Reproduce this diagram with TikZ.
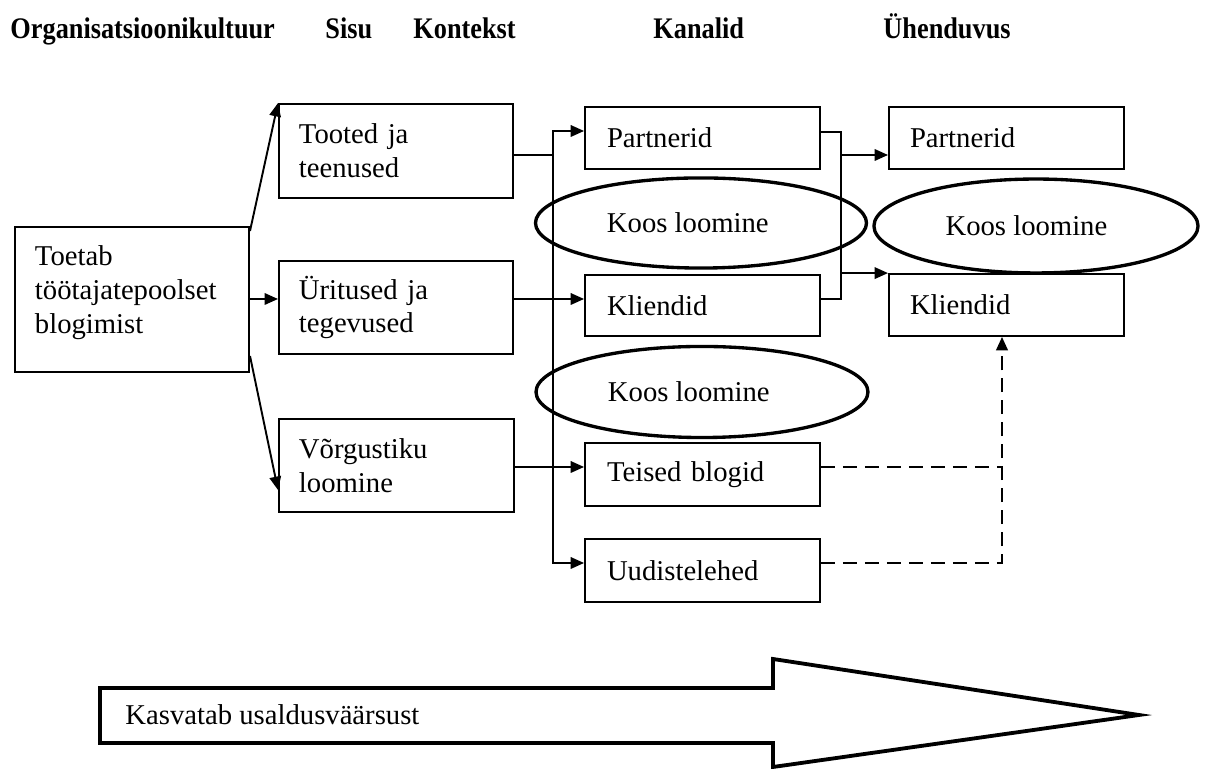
\documentclass[tikz,border=0pt]{standalone}
\usepackage{fontspec}
\setmainfont{Liberation Serif}
\usetikzlibrary{arrows.meta,shapes.geometric,calc}
\newcommand\hdtxt[1]{\scalebox{0.88}[1]{#1}}
\begin{document}
\begin{tikzpicture}[x=0.4184pt,y=-0.4184pt,
  every node/.style={font=\fontsize{12}{14.2}\selectfont},
  box/.style={draw, line width=0.8pt, align=left, inner xsep=8.37pt, inner ysep=0pt},
  boxc/.style={draw, line width=0.8pt, align=left, inner xsep=9.2pt, inner ysep=0pt, text width=79.9pt},
  boxd/.style={draw, line width=0.8pt, align=left, inner xsep=8.79pt, inner ysep=0pt, text width=80.75pt},
  oval/.style={draw, ellipse, line width=1.4pt, inner sep=0pt},
  conn/.style={line width=0.8pt},
  arr/.style={conn, -{Triangle[length=5.6pt,width=4.8pt]}},
  dsh/.style={line width=1pt, dash pattern=on 5.9pt off 3.3pt},
  head/.style={font=\fontsize{12.5}{14}\selectfont\bfseries, anchor=base west, inner sep=0pt},
  bigarrow/.style={line width=1.6pt, line join=miter}]

\useasboundingbox (0,0) rectangle (1214,769);

% header
\node[head] (h1) at (10,39) {\hdtxt{Organisatsioonikultuur}};
\node[head] (h2) at (325,39) {\hdtxt{Sisu}};
\node[head] (h3) at (413,39) {\hdtxt{Kontekst}};
\node[head] (h4) at (653,39) {\hdtxt{Kanalid}};
\node[head] (h5) at (883,39) {\hdtxt{Ühenduvus}};

% left box
\node[box, text width=81.2pt, minimum height=60.7pt] (L) at (132,299.5) {Toetab\\töötajatepoolset\\blogimist\\[-6pt]\mbox{}};

% column 2
\node[box, text width=81.2pt, minimum height=39.3pt] (T) at (396,151) {Tooted ja\\teenused};
\node[box, text width=81.2pt, minimum height=38.9pt] (U) at (396,307.5) {Üritused ja\\tegevused};
\node[box, text width=81.6pt, minimum height=38.9pt] (V) at (396.5,465.5) {Võrgustiku\\loomine};

% column 3
\node[boxc, minimum height=25.9pt] (P3) at (702.5,138) {Partnerid};
\node[boxc, minimum height=25.5pt] (K3) at (702.5,305.5) {Kliendid};
\node[boxc, minimum height=26.4pt] (B3) at (702.5,474.5) {Teised blogid};
\node[boxc, minimum height=26.4pt] (N3) at (702.5,570.5) {Uudistelehed};

% column 4
\node[boxd, minimum height=25.9pt] (P4) at (1006.5,138) {Partnerid};
\node[boxd, minimum height=25.9pt] (K4) at (1006.5,305) {Kliendid};

% ellipses
\node[oval, minimum width=138.5pt, minimum height=37.7pt] (E1) at (701,223) {Koos loomine\hspace{11pt}\mbox{}};
\node[oval, minimum width=138.9pt, minimum height=38.1pt] (E2) at (702,392) {Koos loomine\hspace{11pt}\mbox{}};
\node[oval, minimum width=135.6pt, minimum height=39.3pt] (E3) at (1036,226) {Koos loomine\hspace{8pt}\mbox{}};

% helper coordinates
\coordinate (yU) at (0,299);
\coordinate (yT) at (0,467);
\coordinate (yN) at (0,563);
\coordinate (y155) at (0,155);
\coordinate (y132) at (0,132);
\coordinate (y490) at (0,490);
\coordinate (bT) at (553,131);
\coordinate (bB) at (553,563);
\coordinate (x841) at (841,0);
\coordinate (x1002) at (1002,0);

% left connectors
\draw[arr] ($(L.north east)+(0,5)$) -- (T.north west);
\draw[arr] (L.east |- yU) -- (U.west |- yU);
\draw[arr] ($(L.south east)+(0,-17)$) -- (V.west |- y490);

% bus to column 3
\draw[arr] (T.east |- y155) -| (bT) -- (P3.west |- bT);
\draw[arr] (bT) -- (bB) -- (N3.west |- bB);
\draw[arr] (U.east |- yU) -- (K3.west |- yU);
\draw[arr] (V.east |- yT) -- (B3.west |- yT);

% column 3 to column 4
\draw[conn] (P3.east |- y132) -| (x841 |- yU) -- (K3.east |- yU);
\draw[arr] (x841 |- y155) -- (P4.west |- y155);
\draw[arr] (x841 |- K4.north) -- (K4.north west);

% dashed
\draw[dsh] (B3.east |- yT) -- (x1002 |- yT);
\draw[dsh, -{Triangle[length=5.6pt,width=4.8pt]}] (N3.east |- yN) -| (x1002 |- K4.south);

% big arrow
\draw[bigarrow] (100,688) -- (773,688) -- (773,659) -- (1139,715) -- (773,767) -- (773,743) -- (100,743) -- cycle;
\node[anchor=base west, inner sep=0pt] (KU) at (125,725) {Kasvatab usaldusväärsust};
\end{tikzpicture}
\end{document}
